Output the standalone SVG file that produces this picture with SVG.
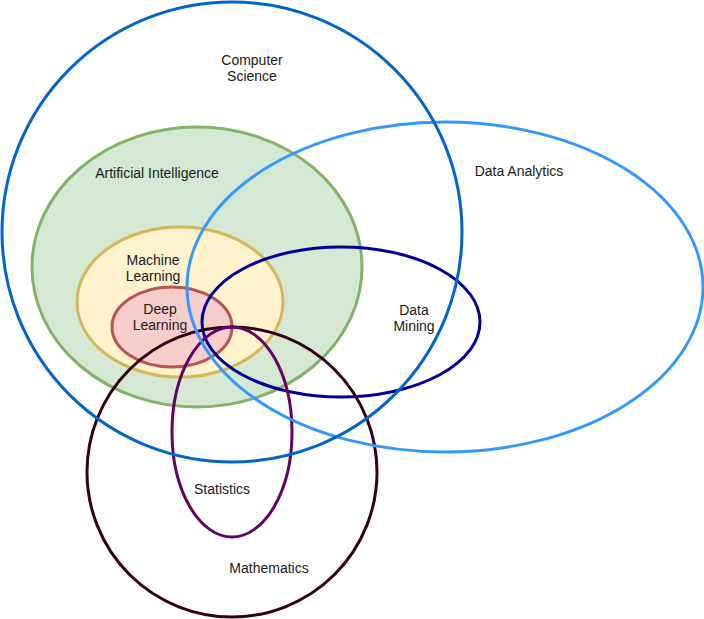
<svg xmlns="http://www.w3.org/2000/svg" width="704" height="619" viewBox="0 0 704 619">
<style>
.e{stroke-width:3;fill:none}
.t{font-family:"Liberation Sans",Arial,sans-serif;font-size:14px;fill:#1a1a1a;text-anchor:middle}
</style>
<rect width="704" height="619" fill="#ffffff"/>
<g id="ai"><ellipse class="e" cx="197" cy="267" rx="165" ry="140" stroke="#82b366" style="fill:#d5e8d4"/></g>
<g id="ml"><ellipse class="e" cx="180" cy="302" rx="103" ry="75" stroke="#d6b656" style="fill:#fff2cc"/></g>
<g id="dl"><ellipse class="e" cx="172" cy="327" rx="60" ry="40" stroke="#b85450" style="fill:#f8cecc"/></g>
<g id="dm"><ellipse class="e" cx="341" cy="322" rx="139" ry="75" stroke="#000099"/></g>
<g id="math"><ellipse class="e" cx="232" cy="472" rx="145" ry="145" stroke="#33001A"/></g>
<g id="stat"><ellipse class="e" cx="232" cy="432" rx="60" ry="105" stroke="#660066"/></g>
<g id="da"><ellipse class="e" cx="445" cy="287" rx="258" ry="165" stroke="#3399FF"/></g>
<g id="cs"><ellipse class="e" cx="232" cy="232" rx="230" ry="230" stroke="#0066CC"/></g>
<g id="labels">
<text class="t" x="252" y="65">Computer</text>
<text class="t" x="252" y="81">Science</text>
<text class="t" x="157" y="178">Artificial Intelligence</text>
<text class="t" x="519" y="176">Data Analytics</text>
<text class="t" x="153" y="265">Machine</text>
<text class="t" x="153" y="281">Learning</text>
<text class="t" x="160" y="314">Deep</text>
<text class="t" x="160" y="330">Learning</text>
<text class="t" x="414" y="315">Data</text>
<text class="t" x="414" y="331">Mining</text>
<text class="t" x="222" y="494">Statistics</text>
<text class="t" x="269" y="573">Mathematics</text>
</g>
</svg>
